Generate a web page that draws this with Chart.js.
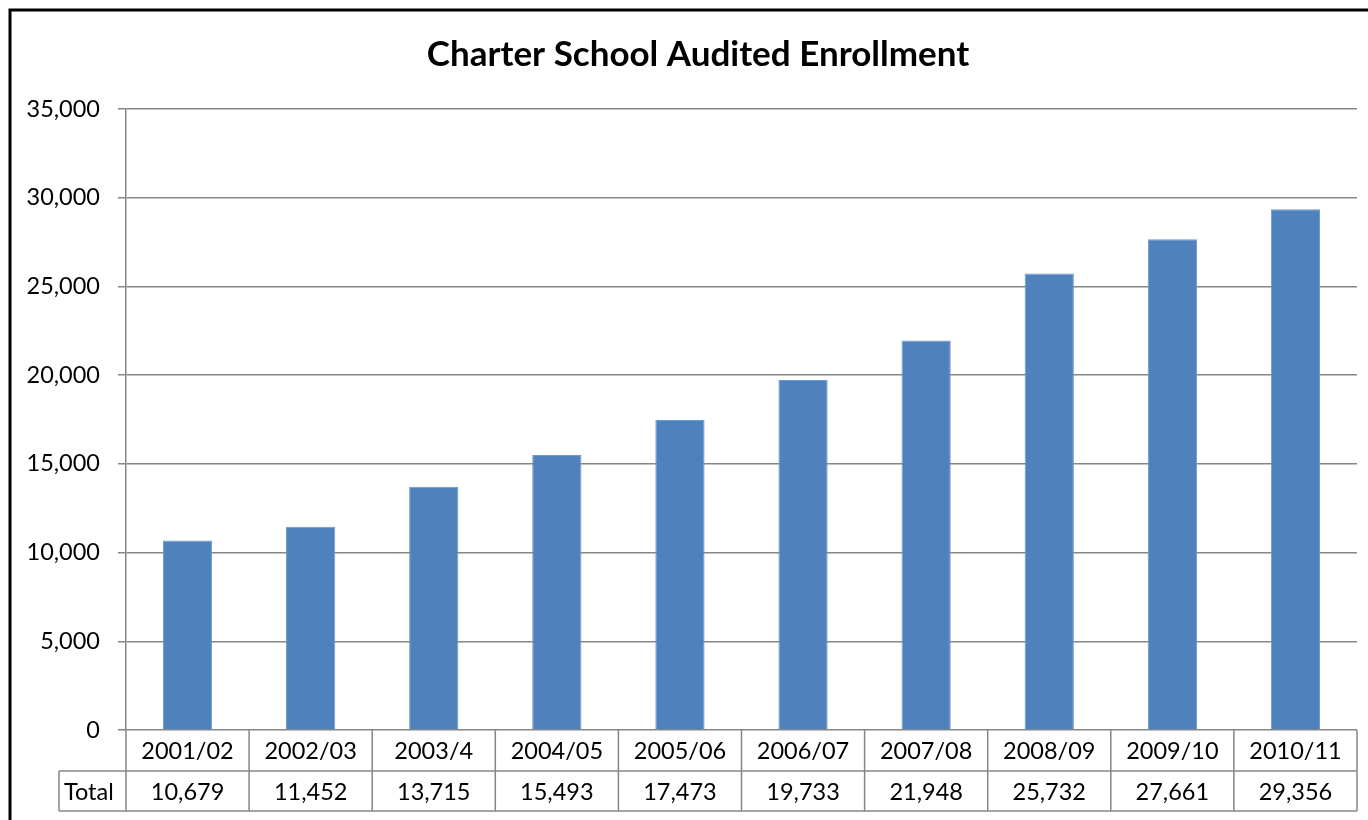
<!DOCTYPE html>
<html>
<head>
<meta charset="utf-8">
<script src="https://cdn.jsdelivr.net/npm/chart.js@4/dist/chart.umd.min.js"></script>
<style>
html,body{margin:0;padding:0;background:#fff;}
#wrap{position:relative;width:1368px;height:820px;}
canvas{display:block;}
</style>
</head>
<body>
<div id="wrap"><canvas id="c" width="1368" height="820"></canvas></div>
<script>
const title = "Charter School Audited Enrollment";
const categories = ["2001/02","2002/03","2003/4","2004/05","2005/06","2006/07","2007/08","2008/09","2009/10","2010/11"];
const seriesName = "Total";
const enrollment = [10679, 11452, 13715, 15493, 17473, 19733, 21948, 25732, 27661, 29356];
const yTicks = [0, 5000, 10000, 15000, 20000, 25000, 30000, 35000];

const FONT = "Lato, 'Open Sans', sans-serif";
const GRID = "#868686";

function fmt(v){ return v.toLocaleString('en-US'); }

const decor = {
  id: 'decor',
  afterDraw(chart){
    const ctx = chart.ctx;
    const xs = chart.scales.x;
    const area = chart.chartArea;
    ctx.save();
    // outer border
    ctx.strokeStyle = '#000';
    ctx.lineWidth = 3;
    ctx.beginPath();
    ctx.moveTo(10, 822);
    ctx.lineTo(10, 10);
    ctx.lineTo(1370, 10);
    ctx.stroke();
    // title
    ctx.fillStyle = '#000';
    ctx.font = "bold 35px " + FONT;
    ctx.textAlign = 'center';
    ctx.textBaseline = 'middle';
    ctx.fillText(title, 698, 55);
    // data table
    const n = categories.length;
    const half = (xs.getPixelForValue(1) - xs.getPixelForValue(0)) / 2;
    const top = area.bottom, r1 = top + 41, r2 = r1 + 40;
    const left = area.left, right = area.right;
    const labelLeft = 59;
    ctx.strokeStyle = GRID;
    ctx.lineWidth = 1.5;
    ctx.beginPath();
    ctx.moveTo(left, top); ctx.lineTo(left, r2);
    ctx.moveTo(labelLeft, r1); ctx.lineTo(right, r1);
    ctx.moveTo(labelLeft, r2); ctx.lineTo(right, r2);
    ctx.moveTo(labelLeft, r1); ctx.lineTo(labelLeft, r2);
    for (let i = 0; i < n; i++) {
      const xr = xs.getPixelForValue(i) + half;
      ctx.moveTo(xr, top); ctx.lineTo(xr, r2);
    }
    ctx.stroke();
    ctx.fillStyle = '#000';
    ctx.font = "23.5px " + FONT;
    ctx.textBaseline = 'middle';
    ctx.textAlign = 'center';
    for (let i = 0; i < n; i++) {
      const cx = xs.getPixelForValue(i);
      ctx.fillText(categories[i], cx, (top + r1) / 2 + 1);
      ctx.fillText(fmt(enrollment[i]), cx, (r1 + r2) / 2 + 1);
    }
    ctx.textAlign = 'left';
    ctx.fillText(seriesName, labelLeft + 5, (r1 + r2) / 2 + 1);
    ctx.restore();
  }
};

new Chart(document.getElementById('c'), {
  type: 'bar',
  data: {
    labels: categories,
    datasets: [{
      label: seriesName,
      data: enrollment,
      backgroundColor: '#4F81BD',
      borderColor: '#6E97CB',
      borderWidth: 1,
      barPercentage: 0.4,
      categoryPercentage: 1.0
    }]
  },
  options: {
    responsive: false,
    animation: false,
    layout: { padding: { top: 109, right: 11, bottom: 90, left: 0 } },
    plugins: { legend: { display: false }, title: { display: false }, tooltip: { enabled: false } },
    scales: {
      x: { display: false },
      y: {
        min: 0, max: 35000,
        afterFit(scale){ scale.width = 126; },
        afterBuildTicks(scale){ scale.ticks = yTicks.map(v => ({ value: v })); },
        grid: { color: GRID, lineWidth: 1.5, tickLength: 8, drawTicks: true },
        border: { color: GRID, width: 1.5 },
        ticks: {
          padding: 18,
          color: '#000',
          font: { family: FONT, size: 23.5 },
          callback: v => fmt(v)
        }
      }
    }
  },
  plugins: [decor]
});
</script>
</body>
</html>
